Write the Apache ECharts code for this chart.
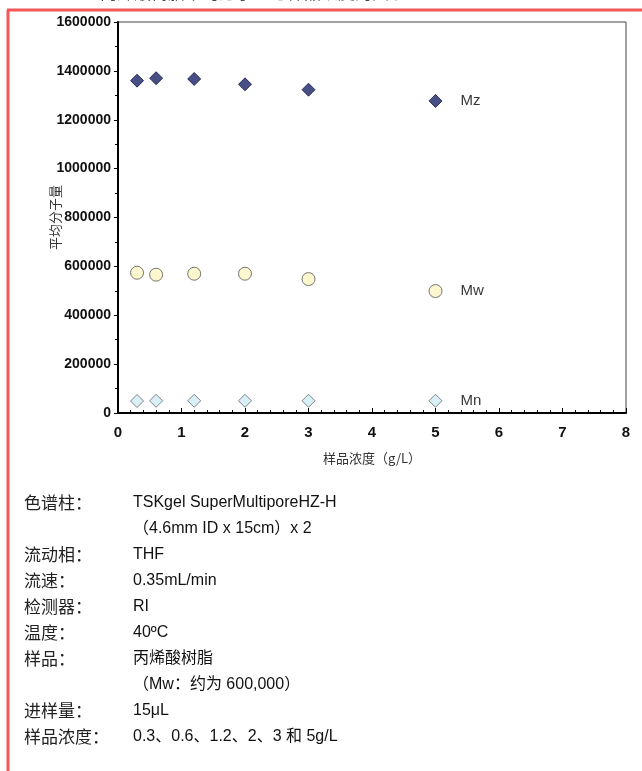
<!DOCTYPE html>
<html>
<head>
<meta charset="utf-8">
<style>
html, body { margin: 0; padding: 0; background: #fff; }
#chart { width: 642px; height: 771px; }
</style>
<script src="https://cdn.jsdelivr.net/npm/echarts@6/dist/echarts.min.js"></script>
</head>
<body>
<div id="chart"></div>
<script>
// 样品浓度 (g/L)
var conc = [0.3, 0.6, 1.2, 2, 3, 5];
var mzValues = [1360000, 1370000, 1367000, 1345000, 1323000, 1277000];
var mwValues = [574000, 566000, 570000, 570000, 548000, 499000];
var mnValues = [49000, 50000, 50000, 50000, 50000, 50000];
var seriesNames = ['Mz', 'Mw', 'Mn'];
var xTicks = [0, 1, 2, 3, 4, 5, 6, 7, 8];
var yTicks = [0, 200000, 400000, 600000, 800000, 1000000, 1200000, 1400000, 1600000];

var infoLabels = ['色谱柱：', '', '流动相：', '流速：', '检测器：', '温度：', '样品：', '', '进样量：', '样品浓度：'];
var infoValues = ['TSKgel SuperMultiporeHZ-H', '（4.6mm ID x 15cm）x 2', 'THF', '0.35mL/min', 'RI',
	'40ºC', '丙烯酸树脂', '（Mw：约为 600,000）', '15μL', '0.3、0.6、1.2、2、3 和 5g/L'];

var chart = echarts.init(document.getElementById('chart'));

// 每个系列最后一个点显示名称
function buildData(vals, name) {
	return vals.map(function(v, i) {
		var item = { value: [conc[i], v] };
		if (i == vals.length - 1) {
			item.label = {
				show: true,
				position: 'right',
				distance: 18,
				formatter: name,
				color: '#000',
				fontSize: 15,
				fontFamily: 'Liberation Sans, Arial, sans-serif'
			};
		}
		return item;
	});
}

var graphics = [
	// 顶部被裁掉的标题
	{ type: 'text', left: 100, top: -16, silent: true,
		style: { text: '丙烯酸树脂平均分子量与样品浓度的关系', fontSize: 17, fill: '#444',
			fontFamily: 'Noto Sans CJK SC', letterSpacing: 6 } },
	// 红色边框
	{ type: 'line', silent: true, shape: { x1: 7, y1: 10, x2: 642, y2: 10 }, style: { stroke: '#f25757', lineWidth: 3 } },
	{ type: 'line', silent: true, shape: { x1: 8, y1: 10, x2: 8, y2: 771 }, style: { stroke: '#f25757', lineWidth: 3 } }
];
for (var i = 0; i < infoValues.length; i++) {
	var y = 503 + i * 26;
	if (infoLabels[i]) {
		graphics.push({ type: 'text', silent: true, x: 24, y: y,
			style: { text: infoLabels[i], fontSize: 17, fill: '#222', verticalAlign: 'middle',
				fontFamily: 'Noto Sans CJK SC' } });
	}
	graphics.push({ type: 'text', silent: true, x: 133, y: y,
		style: { text: infoValues[i], fontSize: 16, fill: '#111', verticalAlign: 'middle',
			fontFamily: 'Liberation Sans, Noto Sans CJK SC, sans-serif' } });
}

var option = {
	backgroundColor: '#fff',
	animation: false,
	grid: {
		left: 118, right: 16, top: 22, bottom: 358,
		show: true, borderColor: '#444', borderWidth: 1
	},
	xAxis: {
		type: 'value', min: 0, max: 8, interval: 1,
		name: '样品浓度（g/L）', nameLocation: 'middle', nameGap: 39, nameMoveOverlap: false,
		nameTextStyle: { fontSize: 13, color: '#333', fontFamily: 'Noto Sans CJK SC' },
		axisLine: { show: true, lineStyle: { color: '#000', width: 2 } },
		axisTick: { show: true, inside: true, length: 5, lineStyle: { color: '#000' } },
		minorTick: { show: true, splitNumber: 5, length: 3, lineStyle: { color: '#000' } },
		axisLabel: {
			margin: 12, fontSize: 15, color: '#111', fontWeight: 'bold',
			fontFamily: 'Liberation Sans Narrow, Arial Narrow, sans-serif',
			formatter: function(v) { return xTicks.indexOf(v) >= 0 ? String(v) : ''; }
		},
		splitLine: { show: false }
	},
	yAxis: {
		type: 'value', min: 0, max: 1600000, interval: 200000,
		name: '平均分子量', nameLocation: 'middle', nameGap: 56, nameRotate: 90, nameMoveOverlap: false,
		nameTextStyle: { fontSize: 13, color: '#333', fontFamily: 'Noto Sans CJK SC' },
		axisLine: { show: true, lineStyle: { color: '#000', width: 2 } },
		axisTick: { show: true, length: 4, lineStyle: { color: '#000' } },
		minorTick: { show: true, splitNumber: 2, length: 3, lineStyle: { color: '#000' } },
		axisLabel: {
			margin: 7, fontSize: 14, color: '#111', fontWeight: 'bold',
			fontFamily: 'Liberation Sans Narrow, Arial Narrow, sans-serif',
			formatter: function(v) { return yTicks.indexOf(v) >= 0 ? String(v) : ''; }
		},
		splitLine: { show: false }
	},
	series: [{
		name: seriesNames[0], type: 'scatter', symbol: 'diamond', symbolSize: 13,
		itemStyle: { color: '#1a2366', borderColor: '#0f1745', borderWidth: 1 },
		data: buildData(mzValues, seriesNames[0])
	}, {
		name: seriesNames[1], type: 'scatter', symbol: 'circle', symbolSize: 13,
		itemStyle: { color: '#fbf5c2', borderColor: '#555', borderWidth: 1 },
		data: buildData(mwValues, seriesNames[1])
	}, {
		name: seriesNames[2], type: 'scatter', symbol: 'diamond', symbolSize: 13,
		itemStyle: { color: '#cdebf2', borderColor: '#667', borderWidth: 1 },
		data: buildData(mnValues, seriesNames[2])
	}],
	graphic: graphics
};
chart.setOption(option);
</script>
</body>
</html>
